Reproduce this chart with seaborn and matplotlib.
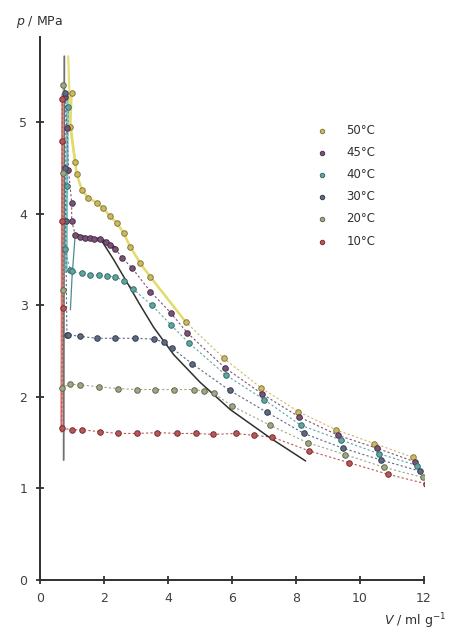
import matplotlib
matplotlib.use("Agg")
import matplotlib.pyplot as plt
import seaborn as sns
import pandas as pd

# isotherm data (V in ml/g, p in MPa)
temps = ["50°C", "45°C", "40°C", "30°C", "20°C", "10°C"]

V50 = [0.99, 0.94, 1.10, 1.15, 1.31, 1.51, 1.78, 1.98, 2.19, 2.40, 2.61, 2.82, 3.13, 3.45, 4.55, 5.75, 6.90, 8.07, 9.25, 10.45, 11.65]
p50 = [5.32, 4.95, 4.56, 4.43, 4.26, 4.17, 4.12, 4.06, 3.97, 3.90, 3.79, 3.64, 3.46, 3.31, 2.82, 2.42, 2.10, 1.84, 1.64, 1.49, 1.34]

V45 = [0.78, 0.84, 0.89, 0.99, 0.99, 1.10, 1.25, 1.40, 1.55, 1.70, 1.88, 2.05, 2.19, 2.35, 2.56, 2.87, 3.45, 4.08, 4.60, 5.77, 6.95, 8.10, 9.32, 10.52, 11.72]
p45 = [5.28, 4.94, 4.48, 4.12, 3.92, 3.77, 3.75, 3.74, 3.73, 3.72, 3.72, 3.69, 3.66, 3.62, 3.52, 3.41, 3.15, 2.92, 2.70, 2.32, 2.03, 1.78, 1.58, 1.44, 1.29]

V40 = [0.89, 0.85, 0.78, 0.94, 0.99, 1.31, 1.57, 1.83, 2.09, 2.35, 2.62, 2.90, 3.50, 4.08, 4.65, 5.80, 7.00, 8.15, 9.40, 10.59, 11.79]
p40 = [5.17, 4.30, 3.61, 3.39, 3.37, 3.35, 3.33, 3.33, 3.32, 3.31, 3.27, 3.18, 3.00, 2.79, 2.59, 2.24, 1.97, 1.69, 1.53, 1.38, 1.25]

V30 = [0.78, 0.79, 0.80, 0.84, 0.89, 1.25, 1.78, 2.35, 2.98, 3.55, 3.87, 4.13, 4.76, 5.93, 7.10, 8.25, 9.46, 10.66, 11.86]
p30 = [5.32, 4.50, 3.92, 2.68, 2.68, 2.66, 2.64, 2.64, 2.64, 2.63, 2.60, 2.53, 2.36, 2.07, 1.83, 1.60, 1.44, 1.31, 1.19]

V20 = [0.72, 0.73, 0.72, 0.68, 0.94, 1.25, 1.83, 2.45, 3.03, 3.60, 4.18, 4.81, 5.12, 5.43, 6.00, 7.19, 8.36, 9.53, 10.76, 11.97]
p20 = [5.41, 4.44, 3.17, 2.10, 2.14, 2.13, 2.11, 2.09, 2.08, 2.08, 2.08, 2.08, 2.06, 2.04, 1.90, 1.69, 1.50, 1.37, 1.23, 1.12]

V10 = [0.70, 0.70, 0.70, 0.71, 0.68, 0.99, 1.30, 1.88, 2.45, 3.04, 3.67, 4.29, 4.86, 5.42, 6.11, 6.68, 7.26, 8.41, 9.67, 10.87, 12.07]
p10 = [5.25, 4.79, 3.92, 2.97, 1.66, 1.64, 1.64, 1.62, 1.60, 1.60, 1.61, 1.60, 1.60, 1.59, 1.60, 1.58, 1.56, 1.41, 1.28, 1.155, 1.05]

# saturated vapour boundary (black curve)
Vsat = [1.90, 2.30, 2.72, 3.10, 3.55, 4.18, 5.00, 5.95, 7.20, 8.30]
psat = [3.72, 3.50, 3.25, 3.02, 2.76, 2.46, 2.16, 1.86, 1.55, 1.30]

# near-vertical liquid branches
Vliq_grey = [0.74, 0.76]
pliq_grey = [1.31, 5.72]
Vliq_red = [0.67, 0.70]
pliq_red = [1.62, 5.30]
Vliq_teal = [0.82, 0.86]
pliq_teal = [3.37, 5.30]
Vliq_yel = [0.88, 0.95, 1.10]
pliq_yel = [5.72, 5.00, 4.56]
Vliq_thin = [1.10, 1.00, 0.95]
pliq_thin = [3.77, 3.30, 2.95]

series = {
    "50°C": (V50, p50),
    "45°C": (V45, p45),
    "40°C": (V40, p40),
    "30°C": (V30, p30),
    "20°C": (V20, p20),
    "10°C": (V10, p10),
}
face = {"50°C": "#cdb965", "45°C": "#7d5278", "40°C": "#5ea6a3",
        "30°C": "#5d6a80", "20°C": "#9ea886", "10°C": "#bb5656"}
edge = {"50°C": "#867838", "45°C": "#48304a", "40°C": "#386a68",
        "30°C": "#353e50", "20°C": "#626a4a", "10°C": "#763030"}

sns.set_style("ticks")
plt.rcParams["font.family"] = ["DejaVu Sans"]

fig = plt.figure(figsize=(4.54, 6.35), dpi=100)
ax = fig.add_axes([40 / 454, 55 / 635, 384 / 454, 543 / 635])

# vertical liquid lines
ax.plot(Vliq_grey, pliq_grey, color="#707070", lw=1.3)
ax.plot(Vliq_red, pliq_red, color="#e07070", lw=1.6)
ax.plot(Vliq_teal, pliq_teal, color="#7cc8c8", lw=2.0)
ax.plot(Vliq_yel, pliq_yel, color="#e6e07a", lw=1.6)
ax.plot(Vliq_thin, pliq_thin, color="#4f8a8c", lw=0.9)

# dotted isotherms
for t in temps:
    V, p = series[t]
    df = pd.DataFrame({"V": V, "p": p})
    sns.lineplot(data=df, x="V", y="p", sort=False, ax=ax, color=face[t],
                 lw=0.8, linestyle=(0, (2, 2)), estimator=None)

# solid yellow part of 50°C and thick dark part of 45°C
df50 = pd.DataFrame({"V": V50, "p": p50})
sns.lineplot(data=df50[df50.V <= 4.6], x="V", y="p", sort=False, ax=ax,
             color="#e2dc6a", lw=1.8, estimator=None)
df45 = pd.DataFrame({"V": V45, "p": p45})
sns.lineplot(data=df45[(df45.V >= 1.1) & (df45.V <= 2.36)], x="V", y="p",
             sort=False, ax=ax, color="#2a1a26", lw=2.6, estimator=None)

# saturation curve
sns.lineplot(x=Vsat, y=psat, sort=False, ax=ax, color="#303030", lw=1.1,
             estimator=None)

# points
for t in temps:
    V, p = series[t]
    sns.scatterplot(x=V, y=p, ax=ax, color=face[t], edgecolor=edge[t],
                    s=16, linewidth=0.7, zorder=5, label=t)

ax.set_xlim(0, 12)
ax.set_ylim(0, 5.93)
ax.set_xticks([0, 2, 4, 6, 8, 10, 12])
ax.set_yticks([0, 1, 2, 3, 4, 5])
ax.set_xlabel("")
ax.set_ylabel("")
sns.despine(ax=ax)
for s in ["left", "bottom"]:
    ax.spines[s].set_linewidth(1.4)
    ax.spines[s].set_color("#303030")
ax.tick_params(direction="inout", length=6, width=1.3, color="#303030",
               labelsize=9, labelcolor="#404040", pad=6)

leg = ax.legend(loc="upper left", bbox_to_anchor=(0.675, 0.86), frameon=False,
                fontsize=8.5, handletextpad=1.1, labelspacing=0.78,
                markerscale=0.8)
for txt in leg.get_texts():
    txt.set_color("#303030")

fig.text(16 / 454, 1 - 22 / 635, "$p$ / MPa", fontsize=9, color="#303030",
         va="center", ha="left")
fig.text(384 / 454, 1 - 621 / 635, "$V$ / ml g$^{-1}$", fontsize=9,
         color="#303030", va="center", ha="left")

fig.savefig("out.png", dpi=100)
